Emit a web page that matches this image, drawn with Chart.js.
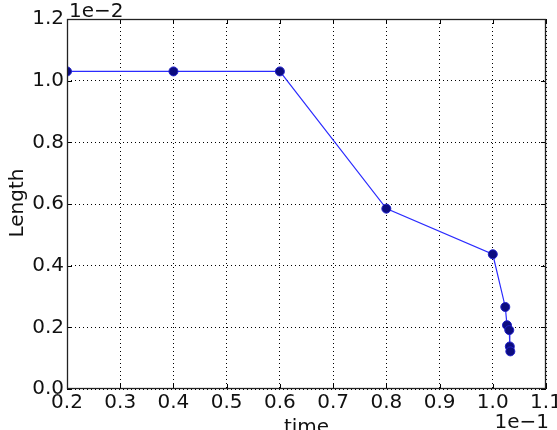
<!DOCTYPE html>
<html lang="en">

<head>
  <meta charset="UTF-8" />
  <title>Length vs time</title>
  <script src="https://cdn.jsdelivr.net/npm/chart.js"></script>
  <style>
    html, body { margin: 0; padding: 0; background: #fff; overflow: hidden; }
    .chart-box { position: relative; width: 557px; height: 430px; }
  </style>
</head>

<body>
  <div class="chart-box">
    <canvas id="lengthChart" width="557" height="430"></canvas>
  </div>

  <script>
    // valores (tempo em 1e-1, comprimento em 1e-2)
    const tempo = [0.2, 0.4, 0.6, 0.8, 1.0, 1.0235, 1.0267, 1.031, 1.032, 1.033];
    const comprimento = [1.03, 1.03, 1.03, 0.585, 0.437, 0.266, 0.207, 0.191, 0.138, 0.122];
    const ticksX = [0.2, 0.3, 0.4, 0.5, 0.6, 0.7, 0.8, 0.9, 1.0, 1.1];
    const ticksY = [0.0, 0.2, 0.4, 0.6, 0.8, 1.0, 1.2];

    const fonte = 'DejaVu Sans';
    const tamFonte = 20;

    // moldura, marcas internas e textos de expoente / eixos
    const extras = {
      id: 'extras',
      afterDraw(chart) {
        const ctx = chart.ctx;
        const area = chart.chartArea;
        const sx = chart.scales.x;
        const sy = chart.scales.y;
        ctx.save();
        ctx.strokeStyle = '#000';
        ctx.lineWidth = 1;
        ctx.beginPath();
        for (let i = 0; i < ticksX.length; i++) {
          const px = Math.round(sx.getPixelForValue(ticksX[i])) + 0.5;
          ctx.moveTo(px, area.bottom); ctx.lineTo(px, area.bottom - 5);
          ctx.moveTo(px, area.top); ctx.lineTo(px, area.top + 5);
        }
        for (let i = 0; i < ticksY.length; i++) {
          const py = Math.round(sy.getPixelForValue(ticksY[i])) + 0.5;
          ctx.moveTo(area.left, py); ctx.lineTo(area.left + 5, py);
          ctx.moveTo(area.right, py); ctx.lineTo(area.right - 5, py);
        }
        ctx.stroke();
        ctx.strokeStyle = '#222';
        ctx.lineWidth = 1.3;
        ctx.strokeRect(area.left + 0.5, area.top + 0.5, area.right - area.left - 1, area.bottom - area.top - 1);

        ctx.fillStyle = '#111';
        ctx.font = tamFonte + 'px "' + fonte + '"';
        ctx.textBaseline = 'alphabetic';
        ctx.textAlign = 'left';
        ctx.fillText('1e\u22122', area.left + 2, 17);
        ctx.textAlign = 'right';
        ctx.fillText('1e\u22121', 549, 428);
        ctx.textAlign = 'center';
        ctx.fillText('time', (area.left + area.right) / 2, 433);
        ctx.translate(23, 203);
        ctx.rotate(-Math.PI / 2);
        ctx.fillText('Length', 0, 0);
        ctx.restore();
      }
    };

    new Chart(document.getElementById('lengthChart'), {
      type: 'line',
      data: {
        datasets: [{
          label: 'Length',
          data: tempo.map((t, i) => ({ x: t, y: comprimento[i] })),
          borderColor: '#2b2bff',
          borderWidth: 1.2,
          pointRadius: 4.5,
          pointHoverRadius: 4.5,
          pointBackgroundColor: '#0c0c80',
          pointBorderColor: '#2020c8',
          pointBorderWidth: 1,
          tension: 0,
          clip: 0
        }]
      },
      options: {
        responsive: false,
        animation: false,
        maintainAspectRatio: false,
        devicePixelRatio: 1,
        layout: { padding: { left: 0, top: 19, right: 11, bottom: 0 } },
        plugins: { legend: { display: false }, tooltip: { enabled: false } },
        scales: {
          x: {
            type: 'linear',
            min: 0.2,
            max: 1.1,
            afterBuildTicks: s => { s.ticks = ticksX.map(v => ({ value: v })); },
            afterFit: s => { s.height = 41; s.paddingLeft = 0; s.paddingRight = 0; },
            ticks: {
              autoSkip: false,
              maxRotation: 0,
              padding: 2,
              color: '#111',
              font: { family: fonte, size: tamFonte },
              callback: v => Number(v).toFixed(1)
            },
            grid: { color: '#000', lineWidth: 1, drawTicks: false, tickLength: 0 },
            border: { display: false, dash: [1, 3] }
          },
          y: {
            type: 'linear',
            min: 0,
            max: 1.2,
            afterBuildTicks: s => { s.ticks = ticksY.map(v => ({ value: v })); },
            afterFit: s => { s.width = 67; s.paddingTop = 0; s.paddingBottom = 0; },
            ticks: {
              autoSkip: false,
              padding: 3,
              color: '#111',
              font: { family: fonte, size: tamFonte },
              callback: v => Number(v).toFixed(1)
            },
            grid: { color: '#000', lineWidth: 1, drawTicks: false, tickLength: 0 },
            border: { display: false, dash: [1, 3] }
          }
        }
      },
      plugins: [extras]
    });
  </script>
</body>

</html>
